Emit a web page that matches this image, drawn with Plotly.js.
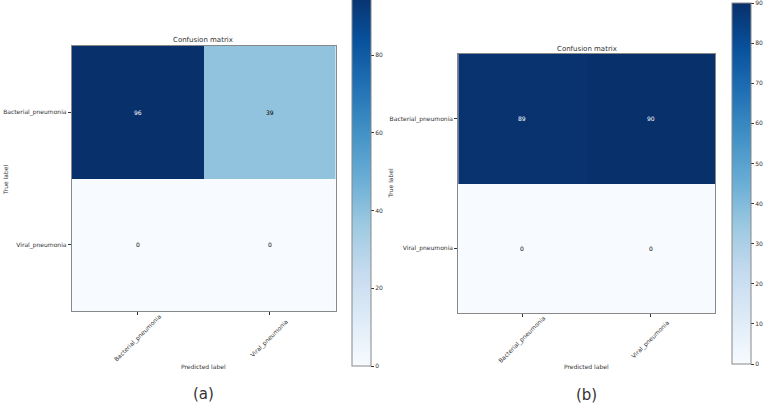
<!DOCTYPE html>
<html>
<head>
<meta charset="utf-8">
<script src="https://cdn.plot.ly/plotly-3.0.1.min.js"></script>
<style>html,body{margin:0;padding:0;background:#fff;}#chart{width:764px;height:403px;}</style>
</head>
<body>
<div id="chart"></div>
<script>
// ---- data ----
const classLabels = ['Bacterial_pneumonia', 'Viral_pneumonia'];
const matrixA = [[96, 39], [0, 0]];
const matrixB = [[89, 90], [0, 0]];
const colorbarTicksA = [0, 20, 40, 60, 80];
const colorbarTicksB = [0, 10, 20, 30, 40, 50, 60, 70, 80, 90];
const panelLabels = ['(a)', '(b)'];
const plotTitle = 'Confusion matrix';
const xTitle = 'Predicted label';
const yTitle = 'True label';

// matplotlib "Blues"
const blues = [
  [0.0, '#f7fbff'], [0.125, '#deebf7'], [0.25, '#c6dbef'], [0.375, '#9ecae1'],
  [0.5, '#6baed6'], [0.625, '#4292c6'], [0.75, '#2171b5'], [0.875, '#08519c'], [1.0, '#08306b']
];

const W = 764, H = 403;
const px = x => x / W;
const py = y => 1 - y / H;
const FONT = 'DejaVu Sans, sans-serif';
const TXT = '#333333';
const tickFont = {family: FONT, size: 6, color: TXT};

function maxOf(m) { return Math.max(...m.flat()); }

function hm(z, xa, ya, cb) {
  return {
    type: 'heatmap', z: z, x: classLabels, y: classLabels,
    xaxis: xa, yaxis: ya, colorscale: blues, zmin: 0, zmax: maxOf(z),
    xgap: 0, ygap: 0, hoverinfo: 'z',
    colorbar: cb
  };
}

const cbCommon = {
  thickness: 19, thicknessmode: 'pixels', lenmode: 'pixels',
  xanchor: 'left', yanchor: 'bottom', xref: 'paper', yref: 'paper',
  xpad: 0, ypad: 0, outlinewidth: 1, outlinecolor: '#888',
  ticks: 'outside', ticklen: 3, tickcolor: '#333', tickwidth: 1,
  tickfont: tickFont, tickmode: 'array', ticklabeloverflow: 'allow'
};

const traces = [
  hm(matrixA, 'x', 'y', Object.assign({}, cbCommon, {
    x: px(353), y: py(366), len: 373, tickvals: colorbarTicksA
  })),
  hm(matrixB, 'x2', 'y2', Object.assign({}, cbCommon, {
    x: px(735), y: py(364), len: 361, tickvals: colorbarTicksB
  }))
];

const axCommon = {
  showline: true, mirror: true, linecolor: '#888', linewidth: 1,
  ticks: 'outside', ticklen: 3, tickcolor: '#333', tickwidth: 1,
  tickfont: tickFont, showgrid: false, zeroline: false, fixedrange: true
};

const layout = {
  width: W, height: H,
  margin: {l: 0, r: 0, t: 0, b: 0},
  paper_bgcolor: '#fff', plot_bgcolor: '#fff',
  showlegend: false,
  font: {family: FONT},
  xaxis: Object.assign({}, axCommon, {domain: [px(72), px(337)], anchor: 'y', showticklabels: false}),
  yaxis: Object.assign({}, axCommon, {domain: [py(311), py(46)], anchor: 'x', autorange: 'reversed'}),
  xaxis2: Object.assign({}, axCommon, {domain: [px(460), px(718)], anchor: 'y2', showticklabels: false}),
  yaxis2: Object.assign({}, axCommon, {domain: [py(313), py(54)], anchor: 'x2', autorange: 'reversed'}),
  annotations: []
};

function addCellText(z, xa, ya) {
  const thresh = maxOf(z) / 2;
  z.forEach((row, i) => row.forEach((v, j) => {
    layout.annotations.push({
      x: classLabels[j], y: classLabels[i], xref: xa, yref: ya,
      text: String(v), showarrow: false,
      font: {family: FONT, size: 6, color: v > thresh ? '#ffffff' : '#000000'}
    });
  }));
}
addCellText(matrixA, 'x', 'y');
addCellText(matrixB, 'x2', 'y2');

// rotated x tick labels, centred on their ticks (matplotlib rotation=45)
function addXTickLabels(xa, yPix) {
  classLabels.forEach(lab => {
    layout.annotations.push({
      text: lab, x: lab, xref: xa, y: py(yPix), yref: 'paper',
      showarrow: false, xanchor: 'center', yanchor: 'middle', textangle: -45,
      font: tickFont
    });
  });
}
addXTickLabels('x', 338);
addXTickLabels('x2', 339);

function addText(text, x, y, size, angle) {
  layout.annotations.push({
    text: text, x: px(x), y: py(y), xref: 'paper', yref: 'paper',
    showarrow: false, xanchor: 'center', yanchor: 'middle',
    textangle: angle || 0, font: {family: FONT, size: size, color: TXT}
  });
}
addText(plotTitle, 204, 40, 7);
addText(plotTitle, 589, 49, 7);
addText(xTitle, 204, 366, 6);
addText(xTitle, 589, 366, 6);
addText(yTitle, 5, 180, 6, -90);
addText(yTitle, 393, 183, 6, -90);
addText(panelLabels[0], 204, 394, 15);
addText(panelLabels[1], 589, 395, 15);

Plotly.newPlot('chart', traces, layout, {staticPlot: true, displayModeBar: false});
</script>
</body>
</html>
